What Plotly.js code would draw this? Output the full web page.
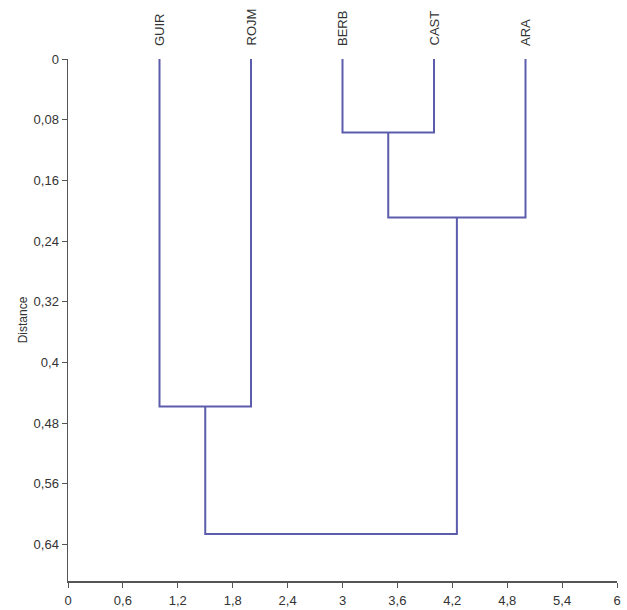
<!DOCTYPE html>
<html>
<head>
<meta charset="utf-8">
<script src="https://cdn.plot.ly/plotly-3.0.1.min.js"></script>
<style>html,body{margin:0;padding:0;background:#fff;}#chart{width:627px;height:610px;}</style>
</head>
<body>
<div id="chart"></div>
<script>
// Leaves (left to right) and their positions
const leaves = ['GUIR', 'ROJM', 'BERB', 'CAST', 'ARA'];
const leafX = [1, 2, 3, 4, 5];
// Merges: [left child, right child, distance]; children: leaf index or 'n'+merge index
const mergeLeft = [2, 'n0', 0, 'n2'];
const mergeRight = [3, 4, 1, 'n1'];
const mergeHeight = [0.097, 0.209, 0.458, 0.626];

const yTicks = [0, 0.08, 0.16, 0.24, 0.32, 0.4, 0.48, 0.56, 0.64];
const xTicks = [0, 0.6, 1.2, 1.8, 2.4, 3, 3.6, 4.2, 4.8, 5.4, 6];

const nodes = [];
function pos(c) {
  if (typeof c === 'number') return [leafX[c], 0];
  return nodes[parseInt(c.slice(1))];
}
const xs = [], ys = [];
for (let i = 0; i < mergeHeight.length; i++) {
  const L = pos(mergeLeft[i]), R = pos(mergeRight[i]), h = mergeHeight[i];
  xs.push(L[0], L[0], R[0], R[0], null);
  ys.push(L[1], h, h, R[1], null);
  nodes.push([(L[0] + R[0]) / 2, h]);
}

const trace = {
  x: xs, y: ys, type: 'scatter', mode: 'lines',
  line: {color: '#5c5cad', width: 2}, hoverinfo: 'skip', connectgaps: false
};

const FONT = 'Arial, "Liberation Sans", sans-serif';

const annotations = leaves.map((t, i) => ({
  x: leafX[i], y: 1, xref: 'x', yref: 'paper', text: t, showarrow: false,
  textangle: -90, yanchor: 'bottom', xanchor: 'center', yshift: 11,
  font: {family: FONT, size: 13, color: '#333'}
}));

const layout = {
  width: 627, height: 610,
  margin: {l: 68, r: 10, t: 59, b: 29},
  paper_bgcolor: '#fff', plot_bgcolor: '#fff',
  separators: ',.',
  showlegend: false,
  font: {family: FONT, size: 13, color: '#333'},
  xaxis: {
    range: [0, 6], tickvals: xTicks, ticks: 'outside', ticklen: 5, tickwidth: 1,
    tickcolor: '#555', showline: true, linecolor: '#555', linewidth: 1.5,
    showgrid: false, zeroline: false, fixedrange: true, ticklabelstandoff: 2,
    tickfont: {family: FONT, size: 13, color: '#333'}
  },
  yaxis: {
    range: [0.688, 0], tickvals: yTicks, ticks: 'outside', ticklen: 5, tickwidth: 1,
    tickcolor: '#555', showline: true, linecolor: '#555', linewidth: 1.5,
    showgrid: false, zeroline: false, fixedrange: true,
    tickfont: {family: FONT, size: 13, color: '#333'},
    title: {text: 'Distance', font: {family: FONT, size: 12, color: '#333'}, standoff: 3}
  },
  annotations: annotations
};

Plotly.newPlot('chart', [trace], layout, {displayModeBar: false, staticPlot: true});
</script>
</body>
</html>
